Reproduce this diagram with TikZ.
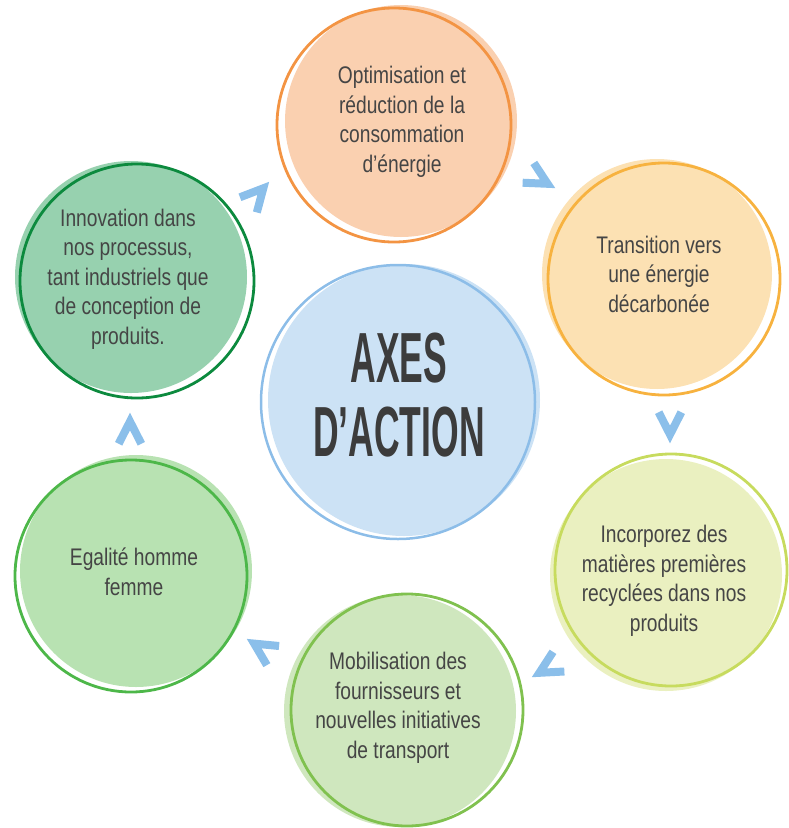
\documentclass[tikz,border=0pt]{standalone}
\usepackage{fontspec}
\setmainfont{Liberation Sans}
\newfontfamily\bodyfont[FakeStretch=0.8]{Liberation Sans}
\newfontfamily\titlefont[FakeStretch=0.5]{Liberation Sans}
\definecolor{optF}{HTML}{FAD0B0}
\definecolor{optD}{HTML}{F39443}
\definecolor{traF}{HTML}{FCE1B3}
\definecolor{traD}{HTML}{F7B23F}
\definecolor{incF}{HTML}{EAF0C0}
\definecolor{incD}{HTML}{C7DB5E}
\definecolor{mobF}{HTML}{CFE7BE}
\definecolor{mobD}{HTML}{80C14F}
\definecolor{egaF}{HTML}{B8E2B2}
\definecolor{egaD}{HTML}{4DB749}
\definecolor{innF}{HTML}{97D1AF}
\definecolor{innD}{HTML}{0C8A3E}
\definecolor{cenF}{HTML}{CCE2F5}
\definecolor{cenD}{HTML}{8CBDE8}
\definecolor{chevC}{HTML}{8BBFEA}
\definecolor{txt}{HTML}{454545}
\definecolor{ttl}{HTML}{3C3C3C}
\tikzset{
  disc/.style={circle, inner sep=0pt, draw=none, minimum size=#1},
  ring/.style={circle, inner sep=0pt, fill=none, line width=2.8pt, minimum size=#1},
  bodytext/.style={align=center, text=txt, inner sep=0pt,
    font=\bodyfont\fontsize{24}{29.5}\selectfont},
  titletext/.style={align=center, text=ttl, inner sep=0pt,
    font=\titlefont\bfseries\fontsize{71}{74}\selectfont},
  chevline/.style={draw=chevC, line width=8pt, line join=miter, line cap=butt},
  chev/.pic={\draw[chevline] (180-27:25pt) -- (0,0) -- (180+27:25pt);}
}
\begin{document}
\begin{tikzpicture}[x=1pt,y=-1pt]
\useasboundingbox (0,0) rectangle (788,828);
% central circle
\node[disc=272pt, fill=cenF] (cenbg) at (404,400) {};
\node[ring=274pt, draw=cenD, line width=2.5pt] (cen) at (398,402) {};
\node[titletext] (cenlabel) at (399,395) {AXES\\D’ACTION};
% top
\node[disc=232pt, fill=optF] (optbg) at (401,121) {};
\node[ring=234pt, draw=optD] (opt) at (394,125) {};
\node[bodytext] (optlabel) at (402,122) {Optimisation et\\réduction de la\\consommation\\d’énergie};
% right
\node[disc=230pt, fill=traF] (trabg) at (657,274) {};
\node[ring=232pt, draw=traD] (tra) at (664,279) {};
\node[bodytext] (tralabel) at (659,274) {Transition vers\\une énergie\\décarbonée};
% lower right
\node[disc=232pt, fill=incF] (incbg) at (666,575) {};
\node[ring=232pt, draw=incD] (inc) at (671,570) {};
\node[bodytext] (inclabel) at (664,581) {Incorporez des\\matières premières\\recyclées dans nos\\produits};
% bottom
\node[disc=232pt, fill=mobF] (mobbg) at (400,711) {};
\node[ring=232pt, draw=mobD] (mob) at (407,710) {};
\node[bodytext] (moblabel) at (398,708) {Mobilisation des\\fournisseurs et\\nouvelles initiatives\\de transport};
% lower left
\node[disc=232pt, fill=egaF] (egabg) at (136,571) {};
\node[ring=232pt, draw=egaD] (ega) at (131,576) {};
\node[bodytext] (egalabel) at (134,572) {Egalité homme\\femme};
% upper left
\node[disc=232pt, fill=innF] (innbg) at (131,277) {};
\node[ring=234pt, draw=innD] (inn) at (137,281) {};
\node[bodytext] (innlabel) at (128,279) {Innovation dans\\nos processus,\\tant industriels que\\de conception de\\produits.};
% chevrons
\pic[rotate=48] at (263.3,188.3) {chev};
\pic[rotate=-29.5] at (547.6,183.8) {chev};
\pic[rotate=-90] at (670,434.5) {chev};
\pic[rotate=210] at (539.4,672.8) {chev};
\pic[rotate=147.5] at (254.2,643.6) {chev};
\pic[rotate=90] at (130,421.5) {chev};
\end{tikzpicture}
\end{document}
